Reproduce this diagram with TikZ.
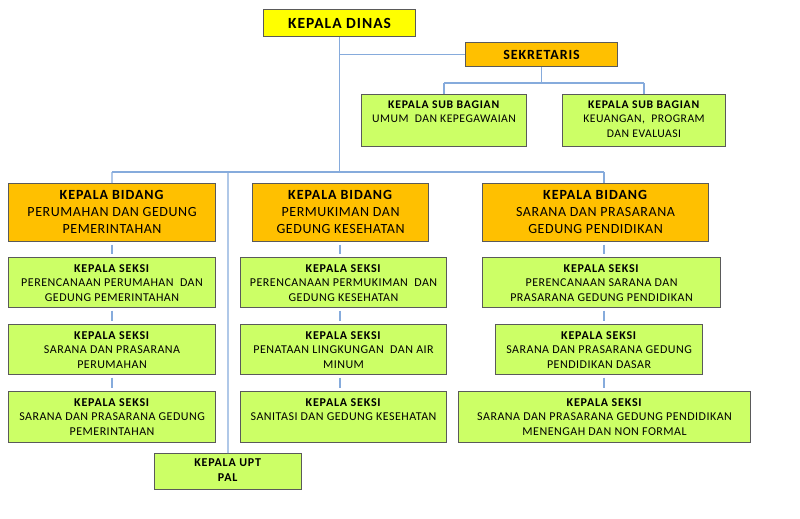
\documentclass[tikz,border=0pt]{standalone}
\usepackage{fontspec}
\setmainfont{Carlito}[LetterSpace=4, BoldFeatures={LetterSpace=6.5}]
\definecolor{boxgray}{HTML}{5A5A5A}
\definecolor{limeb}{HTML}{CCFF66}
\definecolor{orangeb}{HTML}{FFC000}
\definecolor{yelb}{HTML}{FFFF00}
\definecolor{linkblue}{HTML}{86ABDC}
\newcommand\dsp{\ \ }
\tikzset{
  orgbox/.style={draw=boxgray, line width=1.1pt, inner sep=0pt, anchor=north west},
  gbox/.style={orgbox, fill=limeb},
  obox/.style={orgbox, fill=orangeb},
  ybox/.style={orgbox, fill=yelb},
  lbl/.style={anchor=north, align=center, inner sep=0pt, font=\fontsize{12}{14.5}\selectfont},
  slbl/.style={anchor=north, align=center, inner sep=0pt, font=\fontsize{11.7}{14.5}\selectfont},
  blbl/.style={anchor=north, align=center, inner sep=0pt, font=\fontsize{14}{17}\selectfont},
  conn/.style={draw=linkblue, line width=1.3pt},
  seg/.style={conn, shorten <=2.5pt, shorten >=3.5pt}
}
\newcommand\orgbx[6]{\node[#2, minimum width=#5pt, minimum height=#6pt] (#1) at (#3,#4) {};}
\begin{document}
\begin{tikzpicture}[x=1pt,y=-1pt]
\useasboundingbox (0,0) rectangle (800,519);
% boxes
\orgbx{dinas}{ybox}{263}{9}{152}{27}
\orgbx{sek}{obox}{465}{42}{152}{24}
\orgbx{sub1}{gbox}{361}{94}{165}{52}
\orgbx{sub2}{gbox}{562}{94}{163}{52}
\orgbx{b1}{obox}{8}{183}{207}{58}
\orgbx{b2}{obox}{252}{183}{176}{58}
\orgbx{b3}{obox}{482}{183}{226}{58}
\orgbx{s11}{gbox}{8}{257}{207}{50}
\orgbx{s21}{gbox}{240}{257}{206}{50}
\orgbx{s31}{gbox}{482}{257}{238}{50}
\orgbx{s12}{gbox}{8}{324}{207}{50}
\orgbx{s22}{gbox}{240}{324}{206}{50}
\orgbx{s32}{gbox}{495}{324}{207}{50}
\orgbx{s13}{gbox}{8}{391}{207}{51}
\orgbx{s23}{gbox}{240}{391}{206}{51}
\orgbx{s33}{gbox}{458}{391}{292}{51}
\orgbx{upt}{gbox}{154}{453}{147}{36}
% coordinates
\coordinate (bar) at (0,172);
\coordinate (c1) at (112,0);
\coordinate (c2) at (340,0);
\coordinate (c3) at (604,0);
\coordinate (cu) at (228,0);
\coordinate (sbar) at (0,83);
% connectors
\draw[conn] (dinas.south) -- (dinas.south |- bar);
\draw[conn] (dinas.south |- sek.west) -- (sek.west);
\draw[conn] (c1 |- bar) -- (c3 |- bar);
\draw[conn] (c1 |- bar) -- (b1.north);
\draw[conn] (c3 |- bar) -- (c3 |- b3.north);
\draw[conn] (cu |- bar) -- (upt.north);
\draw[conn] (sek.south) -- (sek.south |- sbar);
\draw[conn] (sub1.north |- sbar) -- (sub2.north |- sbar);
\draw[conn] (sub1.north |- sbar) -- (sub1.north);
\draw[conn] (sub2.north |- sbar) -- (sub2.north);
\draw[seg] (b1.south) -- (b1.south |- s11.north);
\draw[seg] (s11.south) -- (s12.north);
\draw[seg] (s12.south) -- (s13.north);
\draw[seg] (c2 |- b2.south) -- (c2 |- s21.north);
\draw[seg] (c2 |- s21.south) -- (c2 |- s22.north);
\draw[seg] (c2 |- s22.south) -- (c2 |- s23.north);
\draw[seg] (c3 |- b3.south) -- (c3 |- s31.north);
\draw[seg] (c3 |- s31.south) -- (c3 |- s32.north);
\draw[seg] (c3 |- s32.south) -- (c3 |- s33.north);
% texts
\node[inner sep=0pt, font=\fontsize{15.5}{18}\selectfont\bfseries] (dinast) at (dinas.center) {KEPALA DINAS};
\node[inner sep=0pt, font=\fontsize{14}{17}\selectfont\bfseries] (sekt) at (sek.center) {SEKRETARIS};
\node[slbl] (sub1t) at ([yshift=-6.5pt]sub1.north) {\textbf{KEPALA SUB BAGIAN}\\UMUM\dsp DAN KEPEGAWAIAN};
\node[slbl] (sub2t) at ([yshift=-6.5pt]sub2.north) {\textbf{KEPALA SUB BAGIAN}\\KEUANGAN,\dsp PROGRAM\\DAN EVALUASI};
\node[blbl] (b1t) at ([yshift=-7.5pt]b1.north) {\textbf{KEPALA BIDANG}\\PERUMAHAN DAN GEDUNG\\PEMERINTAHAN};
\node[blbl] (b2t) at ([yshift=-7.5pt]b2.north) {\textbf{KEPALA BIDANG}\\PERMUKIMAN DAN\\GEDUNG KESEHATAN};
\node[blbl] (b3t) at ([yshift=-7.5pt]b3.north) {\textbf{KEPALA BIDANG}\\SARANA DAN PRASARANA\\GEDUNG PENDIDIKAN};
\node[lbl] (s11t) at ([yshift=-7pt]s11.north) {\textbf{KEPALA SEKSI}\\PERENCANAAN PERUMAHAN\dsp DAN\\GEDUNG PEMERINTAHAN};
\node[lbl] (s12t) at ([yshift=-7pt]s12.north) {\textbf{KEPALA SEKSI}\\SARANA DAN PRASARANA\\PERUMAHAN};
\node[lbl] (s13t) at ([yshift=-7pt]s13.north) {\textbf{KEPALA SEKSI}\\SARANA DAN PRASARANA GEDUNG\\PEMERINTAHAN};
\node[lbl] (s21t) at ([yshift=-7pt]s21.north) {\textbf{KEPALA SEKSI}\\PERENCANAAN PERMUKIMAN\dsp DAN\\GEDUNG KESEHATAN};
\node[lbl] (s22t) at ([yshift=-7pt]s22.north) {\textbf{KEPALA SEKSI}\\PENATAAN LINGKUNGAN\dsp DAN AIR\\MINUM};
\node[lbl] (s23t) at ([yshift=-7pt]s23.north) {\textbf{KEPALA SEKSI}\\SANITASI DAN GEDUNG KESEHATAN};
\node[lbl] (s31t) at ([yshift=-7pt]s31.north) {\textbf{KEPALA SEKSI}\\PERENCANAAN SARANA DAN\\PRASARANA GEDUNG PENDIDIKAN};
\node[lbl] (s32t) at ([yshift=-7pt]s32.north) {\textbf{KEPALA SEKSI}\\SARANA DAN PRASARANA GEDUNG\\PENDIDIKAN DASAR};
\node[lbl] (s33t) at ([yshift=-7pt]s33.north) {\textbf{KEPALA SEKSI}\\SARANA DAN PRASARANA GEDUNG PENDIDIKAN\\MENENGAH DAN NON FORMAL};
\node[lbl] (uptt) at ([yshift=-6pt]upt.north) {\textbf{KEPALA UPT}\\\textbf{PAL}};
\end{tikzpicture}
\end{document}
